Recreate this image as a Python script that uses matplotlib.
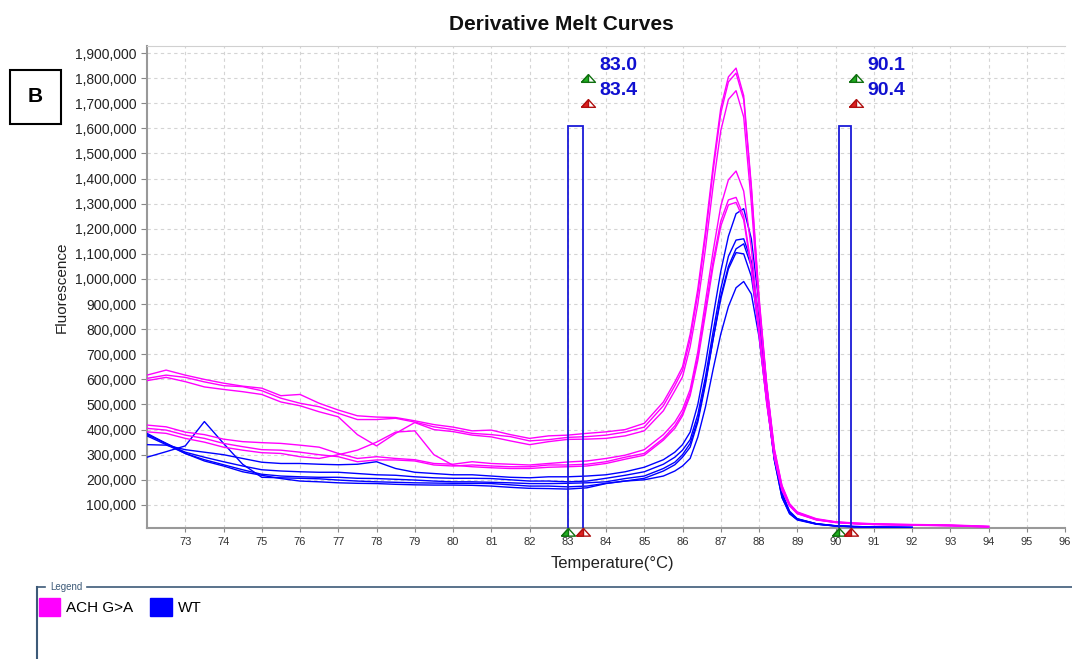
import matplotlib
matplotlib.use("Agg")
import matplotlib.pyplot as plt
from matplotlib.patches import Rectangle, Patch
from matplotlib.lines import Line2D
from matplotlib.path import Path
from matplotlib.ticker import FuncFormatter

plt.rcParams["font.family"] = ["Liberation Sans", "DejaVu Sans"]

# temperature grid (deg C), shared by every curve
temp = [72.0, 72.5, 73.0, 73.5, 74.0, 74.5, 75.0, 75.5, 76.0, 76.5, 77.0, 77.5, 78.0, 78.5,
        79.0, 79.5, 80.0, 80.5, 81.0, 81.5, 82.0, 82.5, 83.0, 83.5, 84.0, 84.5, 85.0,
        85.5, 85.8, 86.0, 86.2, 86.4, 86.6, 86.8, 87.0, 87.2, 87.4, 87.6, 87.8, 88.0,
        88.2, 88.4, 88.6, 88.8, 89.0, 89.5, 90.0, 90.5, 91.0, 92.0, 93.0, 94.0]
temp_wt = temp[:50]  # WT traces stop at 92

# -dF/dT, thousands
ach = [
    [617, 637, 617, 600, 585, 573, 565, 535, 540, 505, 478, 455, 450, 448, 435, 420, 410, 395, 398, 380, 365, 375, 378, 385, 391, 400, 425,
     510, 590, 650, 780, 960, 1190, 1450, 1680, 1805, 1840, 1730, 1370, 930, 585, 325, 178, 105, 72,
     45, 33, 28, 25, 22, 20, 15],
    [604, 617, 608, 590, 575, 571, 555, 525, 505, 491, 465, 440, 440, 445, 430, 411, 400, 385, 380, 372, 355, 360, 369, 372, 378, 390, 410,
     495, 575, 635, 760, 940, 1170, 1430, 1660, 1785, 1820, 1715, 1360, 920, 580, 320, 175, 102, 70,
     43, 32, 27, 24, 21, 19, 14],
    [595, 608, 591, 570, 560, 551, 540, 510, 495, 471, 451, 380, 335, 385, 428, 400, 392, 378, 371, 355, 340, 352, 361, 362, 365, 375, 395,
     475, 555, 610, 730, 900, 1120, 1370, 1590, 1715, 1750, 1645, 1300, 890, 565, 310, 170, 100, 68,
     42, 31, 26, 23, 20, 18, 13],
    [418, 411, 390, 380, 362, 352, 348, 345, 338, 330, 305, 285, 292, 285, 280, 265, 262, 272, 265, 262, 259, 265, 271, 275, 285, 298, 320,
     380, 430, 480, 560, 710, 910, 1110, 1290, 1395, 1430, 1350, 1120, 815, 525, 300, 165, 100, 68,
     42, 31, 26, 23, 20, 18, 13],
    [405, 398, 378, 365, 345, 332, 320, 318, 310, 300, 292, 272, 279, 279, 275, 259, 255, 259, 255, 252, 252, 259, 259, 262, 272, 290, 305,
     365, 415, 465, 545, 690, 880, 1070, 1230, 1315, 1325, 1250, 1050, 785, 510, 292, 160, 97, 66,
     41, 30, 25, 22, 20, 17, 12],
    [391, 385, 365, 350, 330, 318, 308, 305, 292, 285, 300, 318, 350, 390, 395, 300, 258, 252, 248, 245, 245, 250, 252, 255, 265, 282, 298,
     358, 405, 455, 535, 675, 860, 1050, 1210, 1295, 1305, 1235, 1040, 780, 505, 290, 158, 96, 65,
     40, 30, 25, 22, 19, 17, 12],
]

wt = [
    [340, 338, 320, 310, 300, 285, 270, 265, 265, 262, 260, 262, 272, 245, 230, 225, 220, 220, 215, 210, 208, 212, 212, 215, 220, 232, 250,
     280, 310, 340, 390, 500, 660, 850, 1030, 1170, 1260, 1280, 1160, 900, 575, 310, 150, 75, 45,
     25, 17, 14, 12, 10],
    [290, 312, 335, 432, 345, 262, 210, 208, 206, 204, 199, 195, 192, 190, 188, 187, 186, 186, 185, 180, 175, 175, 172, 175, 186, 195, 206,
     235, 260, 290, 330, 430, 580, 760, 930, 1050, 1120, 1140, 1050, 820, 535, 290, 140, 70, 44,
     25, 17, 14, 12, 10],
    [385, 345, 310, 290, 272, 255, 240, 235, 232, 230, 230, 225, 220, 218, 212, 208, 206, 206, 205, 200, 195, 195, 192, 195, 206, 218, 232,
     262, 290, 318, 360, 460, 610, 790, 960, 1090, 1155, 1160, 1070, 840, 545, 295, 140, 70, 43,
     24, 16, 13, 11, 10],
    [375, 340, 305, 280, 260, 240, 222, 215, 212, 210, 210, 206, 205, 202, 199, 195, 192, 192, 190, 188, 185, 185, 186, 188, 192, 205, 215,
     245, 270, 300, 345, 440, 590, 760, 920, 1040, 1105, 1100, 1010, 800, 525, 280, 130, 65, 42,
     24, 16, 13, 11, 10],
    [380, 345, 305, 275, 255, 232, 218, 205, 195, 192, 188, 186, 185, 182, 180, 179, 179, 178, 175, 170, 166, 165, 163, 168, 185, 195, 200,
     215, 235, 255, 285, 370, 490, 640, 780, 890, 965, 990, 940, 770, 515, 280, 130, 65, 40,
     23, 16, 13, 11, 10],
]

series_names = ["ACH G>A", "WT"]
series_colors = ["#ff00ff", "#0000ff"]

# melt region markers: (start, end) of each region, bar height
regions = [(83.0, 83.4), (90.1, 90.4)]
region_top = 1610000
start_level = 1800000
end_level = 1700000

xticks = list(range(73, 97))
yticks = list(range(100000, 2000000, 100000))

fig = plt.figure(figsize=(10.72, 6.59), dpi=100)
ax = fig.add_axes([147 / 1072, 1 - 528 / 659, 918 / 1072, 482 / 659])

for ys in wt:
    ax.plot(temp_wt, [v * 1000 for v in ys], color=series_colors[1], lw=1.0, zorder=3)
for ys in ach:
    ax.plot(temp, [v * 1000 for v in ys], color=series_colors[0], lw=1.0, zorder=3)

# half filled triangle markers (centred for the labels, apex-anchored on the axis)
tri = Path([(-1, -0.55), (1, -0.55), (0, 0.55), (-1, -0.55)])
half = Path([(-1, -0.55), (0, -0.55), (0, 0.55), (-1, -0.55)])
tri_ax = Path([(-1, -1.1), (1, -1.1), (0, 0), (-1, -1.1)])
half_ax = Path([(-1, -1.1), (0, -1.1), (0, 0), (-1, -1.1)])


def flag(x, y, col, edge, full, part, ms=10, clip=True):
    ax.plot([x], [y], marker=full, ms=ms, mfc="white", mec=edge, mew=1.0,
            ls="none", clip_on=clip, zorder=6)
    ax.plot([x], [y], marker=part, ms=ms, mfc=col, mec=edge, mew=1.0,
            ls="none", clip_on=clip, zorder=7)


green, green_e = "#20b020", "#107010"
red, red_e = "#e02020", "#b01010"
for x0, x1 in regions:
    ax.add_patch(Rectangle((x0, 0), x1 - x0, region_top, fill=False,
                           ec="#1a1ad8", lw=1.3, zorder=5))
    flag(x0, 8000, green, green_e, tri_ax, half_ax, ms=11, clip=False)
    flag(x1, 8000, red, red_e, tri_ax, half_ax, ms=11, clip=False)
    flag(x1 + 0.13, start_level, green, green_e, tri, half)
    flag(x1 + 0.13, end_level, red, red_e, tri, half)
    ax.annotate(f"{x0:.1f}", (x1 + 0.13, start_level), xytext=(8, 3),
                textcoords="offset points", color="#1010d0", fontsize=14,
                fontweight="bold", va="bottom")
    ax.annotate(f"{x1:.1f}", (x1 + 0.13, end_level), xytext=(8, 3),
                textcoords="offset points", color="#1010d0", fontsize=14,
                fontweight="bold", va="bottom")

ax.set_xlim(72.0, 95.85)
ax.set_ylim(8000, 1928000)
ax.set_xticks(xticks)
ax.set_yticks(yticks)
ax.yaxis.set_major_formatter(FuncFormatter(lambda v, p: f"{int(v):,}"))
ax.tick_params(axis="y", labelsize=10, colors="#888888", labelcolor="#222222", length=4)
ax.tick_params(axis="x", labelsize=8, colors="#888888", labelcolor="#333333", length=3)
ax.grid(True, color="#d4d4d4", ls=(0, (3, 3)), lw=0.8)
ax.set_axisbelow(True)
for s in ["left", "bottom"]:
    ax.spines[s].set_color("#999999")
    ax.spines[s].set_linewidth(1.5)
ax.spines["top"].set_color("#d0d0d0")
ax.spines["right"].set_visible(False)

ax.set_ylabel("Fluorescence", fontsize=11, color="#222222")
ax.yaxis.set_label_coords(-0.085, 0.5)
ax.set_xlabel("Temperature(\u00b0C)", fontsize=12, color="#222222")
ax.xaxis.set_label_coords((612 - 147) / 918, -0.058)

fig.text(561 / 1072, 1 - 25 / 659, "Derivative Melt Curves", ha="center", va="center",
         fontsize=15, fontweight="bold", color="#111111")

# panel letter
fig.add_artist(Rectangle((10 / 1072, 1 - 124 / 659), 51 / 1072, 54 / 659,
                         transform=fig.transFigure, fill=False, ec="black", lw=1.5))
fig.text(35.5 / 1072, 1 - 97 / 659, "B", ha="center", va="center", fontsize=15,
         fontweight="bold")

# legend frame
lc = "#3d5a78"
fig.add_artist(Line2D([37 / 1072, 45 / 1072], [1 - 587 / 659] * 2, color=lc, lw=1.2))
fig.add_artist(Line2D([87 / 1072, 1.0], [1 - 587 / 659] * 2, color=lc, lw=1.2))
fig.add_artist(Line2D([37 / 1072] * 2, [0, 1 - 587 / 659], color=lc, lw=1.5))
fig.text(50 / 1072, 1 - 587 / 659, "Legend", fontsize=7, color=lc, va="center")
handles = [Patch(fc=c, ec=c) for c in series_colors]
fig.legend(handles, series_names, loc="upper left", bbox_to_anchor=(39 / 1072, 1 - 598 / 659),
           ncol=2, frameon=False, fontsize=11, handlelength=1.4, handleheight=1.4,
           handletextpad=0.4, columnspacing=1.1, borderpad=0, borderaxespad=0)

plt.savefig("out.png", dpi=100)
